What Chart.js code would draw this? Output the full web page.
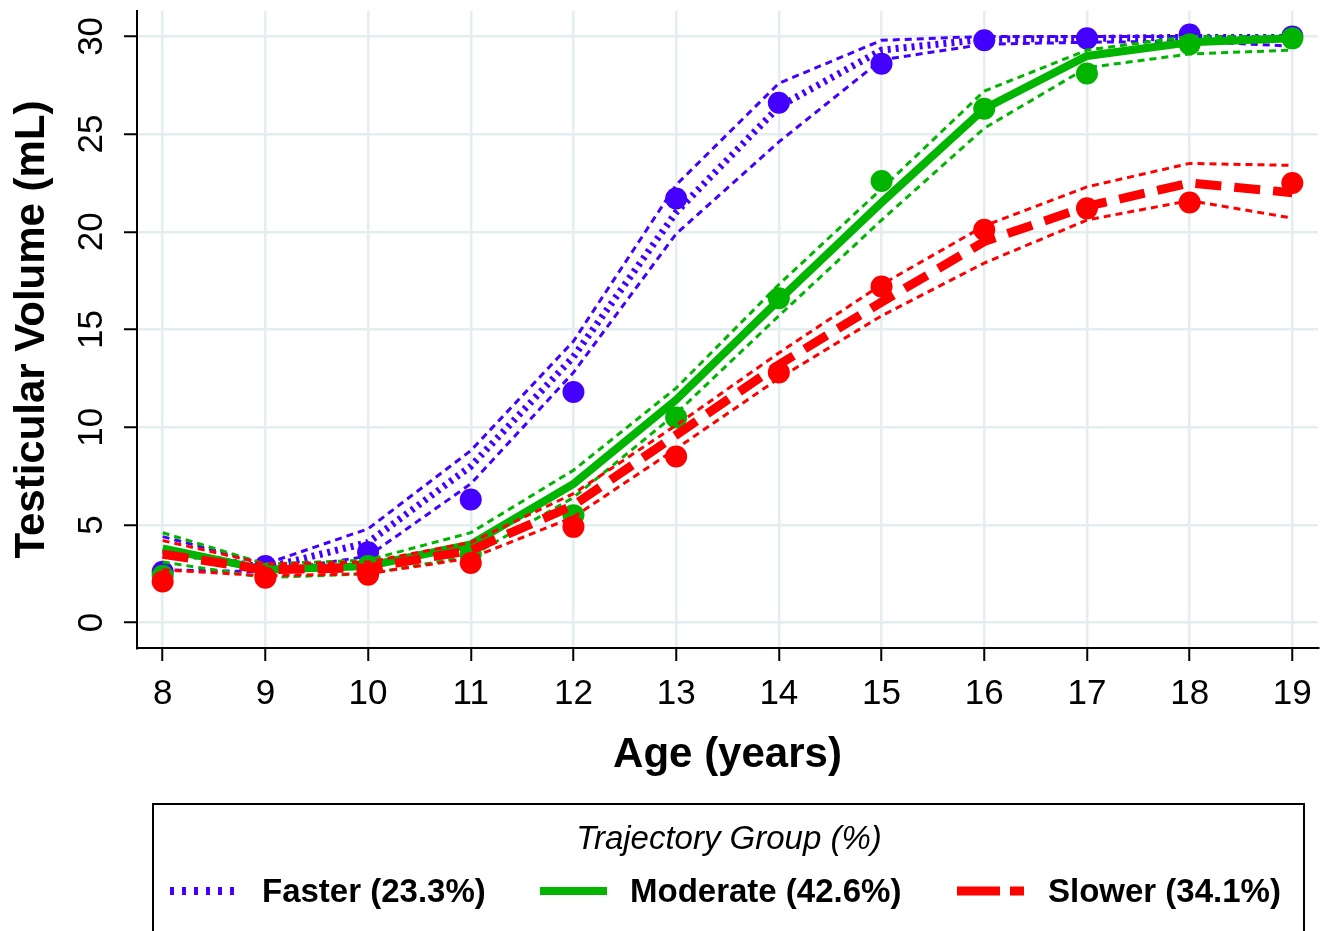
<!DOCTYPE html>
<html>
<head>
<meta charset="utf-8">
<script src="https://cdn.jsdelivr.net/npm/chart.js@4.4.0/dist/chart.umd.min.js"></script>
<style>
  html, body { margin: 0; padding: 0; background: #fff; }
</style>
</head>
<body>
<canvas id="growthChart" width="1333" height="931"></canvas>
<script>
// ages and tick values
const ages = [8, 9, 10, 11, 12, 13, 14, 15, 16, 17, 18, 19];
const yTicks = [0, 5, 10, 15, 20, 25, 30];

// Faster group
const fasterObs   = [2.6, 2.9, 3.6, 6.3, 11.8, 21.7, 26.6, 28.6, 29.8, 29.9, 30.1, 30.0];
const fasterFit   = [3.7, 2.8, 4.1, 8.0, 13.6, 21.0, 26.4, 29.3, 29.85, 29.9, 29.95, 29.95];
const fasterUpper = [4.4, 3.0, 4.8, 8.8, 14.4, 22.4, 27.6, 29.8, 30.0, 30.0, 30.0, 30.0];
const fasterLower = [2.7, 2.6, 3.4, 7.1, 12.8, 19.9, 24.6, 28.8, 29.6, 29.7, 29.75, 29.5];

// Moderate group
const moderateObs   = [2.4, 2.5, 2.9, 3.5, 5.5, 10.5, 16.6, 22.6, 26.3, 28.1, 29.6, 29.9];
const moderateFit   = [3.8, 2.7, 2.9, 4.0, 7.1, 11.4, 16.5, 21.5, 26.3, 29.0, 29.7, 29.9];
const moderateUpper = [4.6, 3.0, 3.2, 4.6, 7.8, 12.0, 17.3, 22.2, 27.2, 29.3, 30.0, 30.0];
const moderateLower = [3.1, 2.3, 2.5, 3.4, 6.4, 10.7, 15.7, 20.6, 25.3, 28.4, 29.1, 29.3];

// Slower group
const slowerObs   = [2.1, 2.3, 2.45, 3.05, 4.9, 8.5, 12.8, 17.2, 20.1, 21.2, 21.5, 22.5];
const slowerFit   = [3.5, 2.7, 2.8, 3.7, 6.0, 9.6, 13.2, 16.4, 19.5, 21.3, 22.5, 22.0];
const slowerUpper = [4.2, 3.0, 3.1, 4.1, 6.6, 10.1, 13.8, 17.3, 20.3, 22.3, 23.5, 23.4];
const slowerLower = [2.7, 2.4, 2.5, 3.3, 5.4, 8.9, 12.5, 15.7, 18.4, 20.6, 21.6, 20.7];

const groupLabels = ['Faster (23.3%)', 'Moderate (42.6%)', 'Slower (34.1%)'];
const legendTitle = 'Trajectory Group (%)';

const BLUE = '#4400FF';
const GREEN = '#00B400';
const RED = '#FF0000';
const FONT = '"Liberation Sans", Arial, Helvetica, sans-serif';

Chart.defaults.font.family = FONT;
Chart.defaults.color = '#000';

function xy(values) {
  return ages.map((a, i) => ({ x: a, y: values[i] }));
}

function ciLine(values, color, order) {
  return {
    data: xy(values), borderColor: color, borderWidth: 3, borderDash: [7, 5],
    pointRadius: 0, fill: false, tension: 0, order: order
  };
}

function fitLine(values, color, width, dash, order) {
  return {
    data: xy(values), borderColor: color, borderWidth: width, borderDash: dash,
    borderCapStyle: 'butt', pointRadius: 0, fill: false, tension: 0, order: order
  };
}

function obsPoints(values, color, order) {
  return {
    data: xy(values), showLine: false, pointRadius: 11, pointHoverRadius: 11,
    pointBackgroundColor: color, pointBorderWidth: 0, order: order
  };
}

// legend samples drawn in a box under the chart
const legendItems = [
  { label: groupLabels[0], color: BLUE, width: 8, dash: [4, 8], x0: 170, x1: 236, tx: 262 },
  { label: groupLabels[1], color: GREEN, width: 8, dash: [], x0: 540, x1: 607, tx: 630 },
  { label: groupLabels[2], color: RED, width: 9, dash: [43, 10], x0: 957, x1: 1024, tx: 1048 }
];

const legendBox = {
  id: 'legendBox',
  afterDraw(chart) {
    const ctx = chart.ctx;
    ctx.save();
    ctx.strokeStyle = '#000';
    ctx.lineWidth = 2;
    ctx.strokeRect(153, 804, 1151, 150);

    ctx.fillStyle = '#000';
    ctx.textAlign = 'center';
    ctx.textBaseline = 'middle';
    ctx.font = 'italic 33px ' + FONT;
    ctx.fillText(legendTitle, 729, 840);

    ctx.font = 'bold 33px ' + FONT;
    ctx.textAlign = 'left';
    legendItems.forEach(it => {
      ctx.beginPath();
      ctx.strokeStyle = it.color;
      ctx.lineWidth = it.width;
      ctx.setLineDash(it.dash);
      ctx.moveTo(it.x0, 891);
      ctx.lineTo(it.x1, 891);
      ctx.stroke();
      ctx.setLineDash([]);
      ctx.fillText(it.label, it.tx, 893);
    });
    ctx.restore();
  }
};

new Chart(document.getElementById('growthChart'), {
  type: 'line',
  data: {
    datasets: [
      // slower on top
      fitLine(slowerFit, RED, 9, [26, 13], 0),
      obsPoints(slowerObs, RED, 1),
      ciLine(slowerUpper, RED, 2),
      ciLine(slowerLower, RED, 2),
      fitLine(moderateFit, GREEN, 8, [], 3),
      obsPoints(moderateObs, GREEN, 4),
      ciLine(moderateUpper, GREEN, 5),
      ciLine(moderateLower, GREEN, 5),
      fitLine(fasterFit, BLUE, 7, [3, 5], 6),
      obsPoints(fasterObs, BLUE, 7),
      ciLine(fasterUpper, BLUE, 8),
      ciLine(fasterLower, BLUE, 8)
    ]
  },
  options: {
    responsive: false,
    animation: false,
    layout: { padding: { top: 9, right: 15, left: 0, bottom: 0 } },
    plugins: { legend: { display: false }, tooltip: { enabled: false } },
    scales: {
      x: {
        type: 'linear',
        min: 7.75,
        max: 19.25,
        afterBuildTicks: s => { s.ticks = ages.map(v => ({ value: v })); },
        afterFit: s => { s.height = 283; s.paddingLeft = 0; s.paddingRight = 0; },
        grid: { color: '#E4EEF0', lineWidth: 2.5, tickColor: '#000', tickLength: 13, tickWidth: 2 },
        border: { color: '#000', width: 2 },
        ticks: { font: { size: 35 }, color: '#000', padding: 12, autoSkip: false, maxRotation: 0 },
        title: {
          display: true, text: 'Age (years)', color: '#000',
          font: { size: 42, weight: 'bold' }, padding: { top: 0, bottom: 150 }
        }
      },
      y: {
        min: -1.3,
        max: 31.3,
        afterBuildTicks: s => { s.ticks = yTicks.map(v => ({ value: v })); },
        afterFit: s => { s.width = 137; s.paddingTop = 0; s.paddingBottom = 0; },
        grid: { color: '#E4EEF0', lineWidth: 2.5, tickColor: '#000', tickLength: 13, tickWidth: 2 },
        border: { color: '#000', width: 2 },
        ticks: { font: { size: 35 }, color: '#000', padding: 12, minRotation: 90, maxRotation: 90, crossAlign: 'center' },
        title: {
          display: true, text: 'Testicular Volume (mL)', color: '#000',
          font: { size: 42, weight: 'bold' }, padding: { top: 7, bottom: 0 }
        }
      }
    }
  },
  plugins: [legendBox]
});
</script>
</body>
</html>
